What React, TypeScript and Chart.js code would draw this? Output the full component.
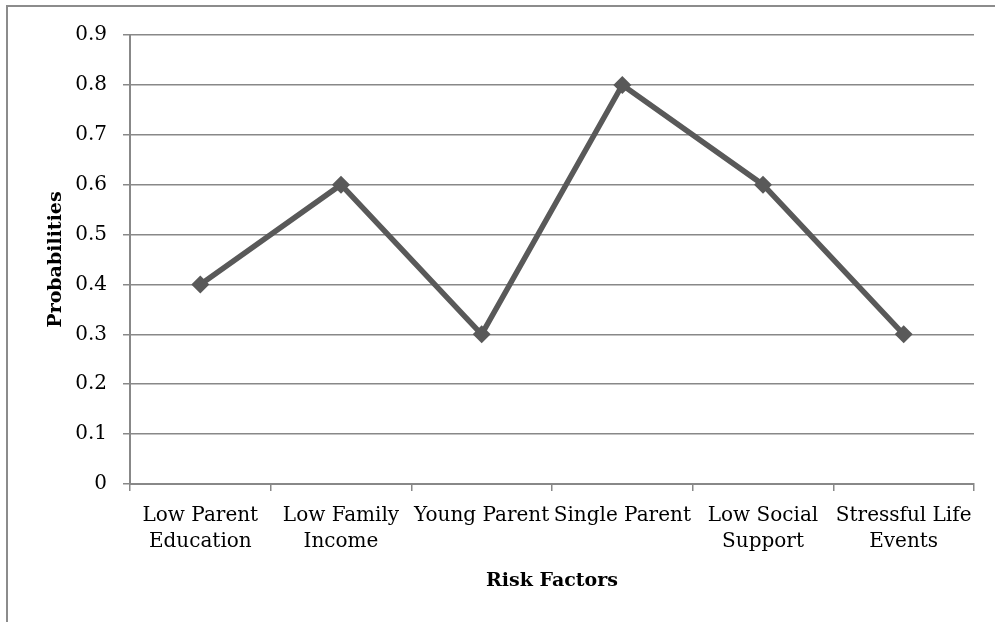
import React, { useEffect, useRef } from "react";
import { Chart, registerables } from "chart.js";

Chart.register(...registerables);

const categories: string[][] = [
  ["Low Parent", "Education"],
  ["Low Family", "Income"],
  ["Young Parent"],
  ["Single Parent"],
  ["Low Social", "Support"],
  ["Stressful Life", "Events"],
];
const probabilities: number[] = [0.4, 0.6, 0.3, 0.8, 0.6, 0.3];
const yTitle = "Probabilities";
const xTitle = "Risk Factors";

const FONT = "'DejaVu Serif', serif";
const GRID = "#888888";
const LINE = "#595959";

export default function App() {
  const ref = useRef<HTMLCanvasElement | null>(null);

  useEffect(() => {
    if (!ref.current) return;
    const chart = new Chart(ref.current, {
      type: "line",
      data: {
        labels: categories,
        datasets: [
          {
            data: probabilities,
            borderColor: LINE,
            backgroundColor: LINE,
            borderWidth: 5.5,
            tension: 0,
            pointStyle: "rectRot",
            pointRadius: 9,
            pointBackgroundColor: LINE,
            pointBorderColor: LINE,
            pointBorderWidth: 0,
          },
        ],
      },
      options: {
        animation: false,
        responsive: false,
        maintainAspectRatio: false,
        layout: { padding: { top: 35, right: 21, left: 0, bottom: 0 } },
        plugins: { legend: { display: false }, tooltip: { enabled: false } },
        scales: {
          x: {
            offset: true,
            grid: {
              offset: true,
              drawOnChartArea: false,
              drawTicks: true,
              tickLength: 7,
              color: GRID,
              lineWidth: 1.5,
            },
            border: { color: GRID, width: 2 },
            ticks: {
              color: "#000",
              font: { family: FONT, size: 20, lineHeight: 1.3 },
              padding: 12,
              maxRotation: 0,
              autoSkip: false,
            },
            title: {
              display: true,
              text: xTitle,
              color: "#000",
              font: { family: FONT, size: 19, weight: "bold", lineHeight: 1.2 },
              padding: { top: 0, bottom: 30 },
            },
            afterFit: (scale: any) => {
              scale.height = 138;
            },
          },
          y: {
            min: 0,
            max: 0.9,
            grid: {
              color: GRID,
              lineWidth: 1.5,
              tickLength: 7,
            },
            border: { color: GRID, width: 2 },
            ticks: {
              stepSize: 0.1,
              color: "#000",
              font: { family: FONT, size: 20 },
              padding: 16,
              callback: (v: any) => (Math.round(Number(v) * 10) / 10).toString(),
            },
            title: {
              display: true,
              text: yTitle,
              color: "#000",
              font: { family: FONT, size: 19, weight: "bold", lineHeight: 1.2 },
              padding: { top: 45, bottom: 0 },
            },
            afterFit: (scale: any) => {
              scale.width = 130;
            },
          },
        },
      },
    });
    return () => chart.destroy();
  }, []);

  return (
    <div style={{ position: "fixed", left: 0, top: 0, width: 995, height: 622, background: "#fff" }}>
      <div
        style={{
          position: "absolute",
          left: 6,
          top: 5,
          width: 1000,
          height: 700,
          borderTop: "2px solid #8c8c8c",
          borderLeft: "2px solid #8c8c8c",
          boxSizing: "border-box",
        }}
      />
      <canvas ref={ref} width={995} height={622} style={{ position: "absolute", left: 0, top: 0 }} />
    </div>
  );
}
